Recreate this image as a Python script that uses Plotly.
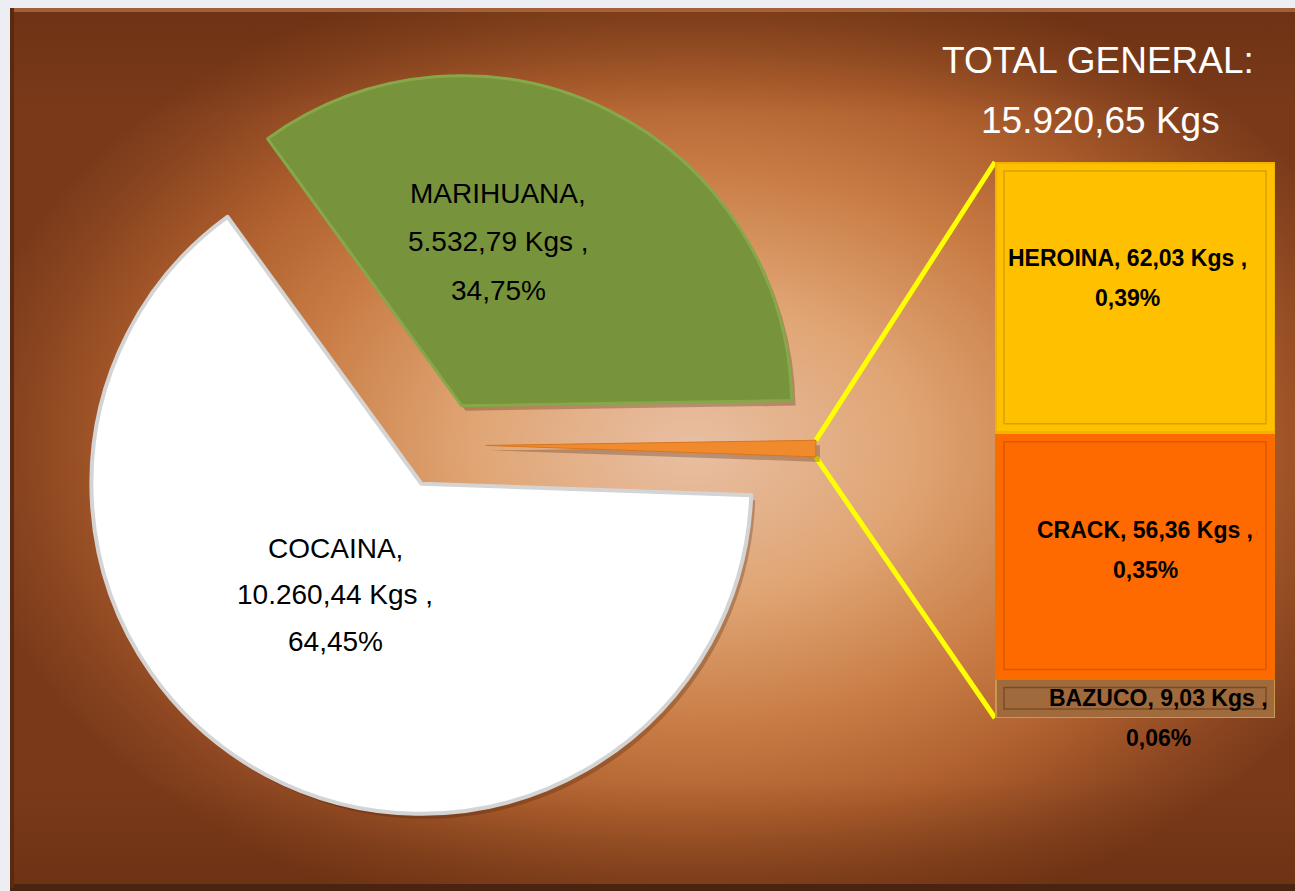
import base64
import math
import plotly.graph_objects as go

# ---------------- data ----------------
pie_labels = ["MARIHUANA", "OTRAS", "COCAINA"]
bar_labels = ["BAZUCO", "CRACK", "HEROINA"]
bar_values = [9.03, 56.36, 62.03]
bar_value_text = ["9,03 Kgs", "56,36 Kgs", "62,03 Kgs"]
bar_pct_text = ["0,06%", "0,35%", "0,39%"]
marihuana_value = 5532.79
cocaina_value = 10260.44
pie_values = [marihuana_value, sum(bar_values), cocaina_value]
pie_value_text = ["5.532,79 Kgs", "127,42 Kgs", "10.260,44 Kgs"]
pie_pct_text = ["34,75%", "0,80%", "64,45%"]
title_lines = ["TOTAL GENERAL:", "15.920,65 Kgs"]

# ---------------- styles / layout constants ----------------
W, H = 1295, 891
FONT = "Liberation Sans, Arial, sans-serif"
pie_colors = ["#77933c", "#f08a2c", "#ffffff"]
pie_line_colors = ["#86a848", "#d8761e", "#d4d4d4"]
pie_line_widths = [3, 1, 4]
bar_colors = ["#a06a3c", "#ff6a00", "#ffc000"]
bar_line_colors = ["#c89a4e", "#f07000", "#f0b400"]
bar_inner_colors = ["#7a4c24", "#d85a00", "#d9a200"]

PIE_CX, PIE_CY, PIE_R = 442, 445, 330
PULL = 0.133
ROT = -36
BAR_X0, BAR_X1, BAR_TOP, BAR_BOTTOM = 995, 1275, 162, 718


def px_to_paper(x, y):
    return x / W, 1 - y / H


box = 2 * PIE_R * (1 + PULL)


def pie_domain(dx=0, dy=0):
    cx, cy = PIE_CX + dx, PIE_CY + dy
    return dict(x=[(cx - box / 2) / W, (cx + box / 2) / W],
                y=[1 - (cy + box / 2) / H, 1 - (cy - box / 2) / H])


fig = go.Figure()

# shadow pie
fig.add_trace(go.Pie(
    labels=pie_labels, values=pie_values, sort=False, direction="clockwise",
    rotation=ROT, pull=[PULL] * 3, textinfo="none", hoverinfo="skip",
    marker=dict(colors=["rgba(70,30,8,0.28)"] * 3, line=dict(width=0)),
    domain=pie_domain(4, 5), showlegend=False,
))
# main pie
fig.add_trace(go.Pie(
    labels=pie_labels, values=pie_values, sort=False, direction="clockwise",
    rotation=ROT, pull=[PULL] * 3, textinfo="none",
    hovertemplate="%{label}: %{value}<extra></extra>",
    marker=dict(colors=pie_colors, line=dict(color=pie_line_colors, width=pie_line_widths)),
    domain=pie_domain(), showlegend=False,
))

# stacked bar
for lab, val, col, lcol in zip(bar_labels, bar_values, bar_colors, bar_line_colors):
    fig.add_trace(go.Bar(
        x=[0], y=[val], name=lab, width=1,
        marker=dict(color=col, line=dict(color=lcol, width=3)),
        showlegend=False, hovertemplate=lab + ": %{y}<extra></extra>",
    ))

total_bar = sum(bar_values)
fig.update_layout(
    barmode="stack",
    xaxis=dict(domain=[BAR_X0 / W, BAR_X1 / W], range=[-0.5, 0.5], visible=False, fixedrange=True),
    yaxis=dict(domain=[1 - BAR_BOTTOM / H, 1 - BAR_TOP / H], range=[0, total_bar], visible=False, fixedrange=True),
    plot_bgcolor="rgba(0,0,0,0)",
)

# bevel-like inner outline of each bar segment
units_per_px_y = total_bar / (BAR_BOTTOM - BAR_TOP)
units_per_px_x = 1.0 / (BAR_X1 - BAR_X0)
INSET = 9
base = 0.0
for val, icol in zip(bar_values, bar_inner_colors):
    dy = min(INSET * units_per_px_y, val * 0.3)
    fig.add_shape(type="rect", xref="x", yref="y",
                  x0=-0.5 + INSET * units_per_px_x, x1=0.5 - INSET * units_per_px_x,
                  y0=base + dy, y1=base + val - dy,
                  line=dict(color=icol, width=1.5), fillcolor="rgba(0,0,0,0)")
    base += val

# connector lines from the "other" slice tip to the bar corners
tot = sum(pie_values)
a0 = ROT + 360 * pie_values[0] / tot
a1 = ROT + 360 * (pie_values[0] + pie_values[1]) / tot
am = math.radians((a0 + a1) / 2)
apx = PIE_CX + PULL * PIE_R * math.sin(am)
apy = PIE_CY - PULL * PIE_R * math.cos(am)
tips = []
for a in (a0, a1):
    r = math.radians(a)
    tips.append((apx + PIE_R * math.sin(r), apy - PIE_R * math.cos(r)))
corners = [(BAR_X0, BAR_TOP), (BAR_X0, BAR_BOTTOM)]
for (tx, ty), (cx, cy) in zip(tips, corners):
    x0, y0 = px_to_paper(tx, ty)
    x1, y1 = px_to_paper(cx, cy)
    fig.add_shape(type="line", xref="paper", yref="paper", x0=x0, y0=y0, x1=x1, y1=y1,
                  line=dict(color="#ffff00", width=5), layer="below")

# ---------------- text ----------------
annotations = []


def add_lines(x, y_first, lines, spacing, size, color="black"):
    for i, t in enumerate(lines):
        px, py = px_to_paper(x, y_first + i * spacing)
        annotations.append(dict(x=px, y=py, xref="paper", yref="paper", text=t,
                                showarrow=False, xanchor="center", yanchor="middle",
                                font=dict(family=FONT, size=size, color=color)))


add_lines(498, 193, [pie_labels[0] + ",", pie_value_text[0] + " ,", pie_pct_text[0]], 48.5, 28)
add_lines(335, 548, [pie_labels[2] + ",", pie_value_text[2] + " ,", pie_pct_text[2]], 46.5, 28)

bar_label_pos = {"HEROINA": (1127, 258), "CRACK": (1145, 530), "BAZUCO": (1158, 698)}
for lab, vt, pt in zip(bar_labels, bar_value_text, bar_pct_text):
    x, y = bar_label_pos[lab]
    add_lines(x, y, ["<b>%s, %s ,</b>" % (lab, vt), "<b>%s</b>" % pt], 39.5, 23)

add_lines(1098, 60, [title_lines[0]], 0, 37, "white")
add_lines(1100, 121, [title_lines[1]], 0, 37, "white")

# ---------------- background ----------------
bg_svg = f'''<svg xmlns="http://www.w3.org/2000/svg" width="{W}" height="{H}" viewBox="0 0 {W} {H}">
<defs>
<radialGradient id="rg" cx="0.53" cy="0.5" r="0.57">
<stop offset="0" stop-color="#e8bfa3"/>
<stop offset="0.3" stop-color="#e0a574"/>
<stop offset="0.55" stop-color="#c97d45"/>
<stop offset="0.75" stop-color="#ad5e2d"/>
<stop offset="0.9" stop-color="#8c4620"/>
<stop offset="1" stop-color="#7a3a1a"/>
</radialGradient>
<linearGradient id="tb" x1="0" y1="0" x2="0" y2="1">
<stop offset="0" stop-color="#5a280c" stop-opacity="0.4"/>
<stop offset="0.12" stop-color="#5a280c" stop-opacity="0"/>
<stop offset="0.88" stop-color="#5a280c" stop-opacity="0"/>
<stop offset="1" stop-color="#5a280c" stop-opacity="0.4"/>
</linearGradient>
</defs>
<rect x="0" y="0" width="{W}" height="{H}" fill="#eceef3"/>
<rect x="10" y="8" width="{W - 10}" height="880" fill="url(#rg)"/>
<rect x="10" y="8" width="{W - 10}" height="880" fill="url(#tb)"/>
<rect x="10" y="8" width="{W - 10}" height="4" fill="#b87048" opacity="0.7"/>
<rect x="10" y="884" width="{W - 10}" height="7" fill="#4a2410"/>
<rect x="10" y="8" width="4" height="880" fill="#5a2a10"/>
</svg>'''
bg_uri = "data:image/svg+xml;base64," + base64.b64encode(bg_svg.encode()).decode()

fig.update_layout(
    width=W, height=H, margin=dict(l=0, r=0, t=0, b=0),
    paper_bgcolor="#eceef3",
    annotations=annotations,
    images=[dict(source=bg_uri, xref="paper", yref="paper", x=0, y=1, sizex=1, sizey=1,
                 xanchor="left", yanchor="top", sizing="stretch", layer="below")],
)

fig.write_html(
    "out.html",
    config={"displayModeBar": False},
    post_script="document.body.style.margin='0';document.body.style.overflow='hidden';",
)
